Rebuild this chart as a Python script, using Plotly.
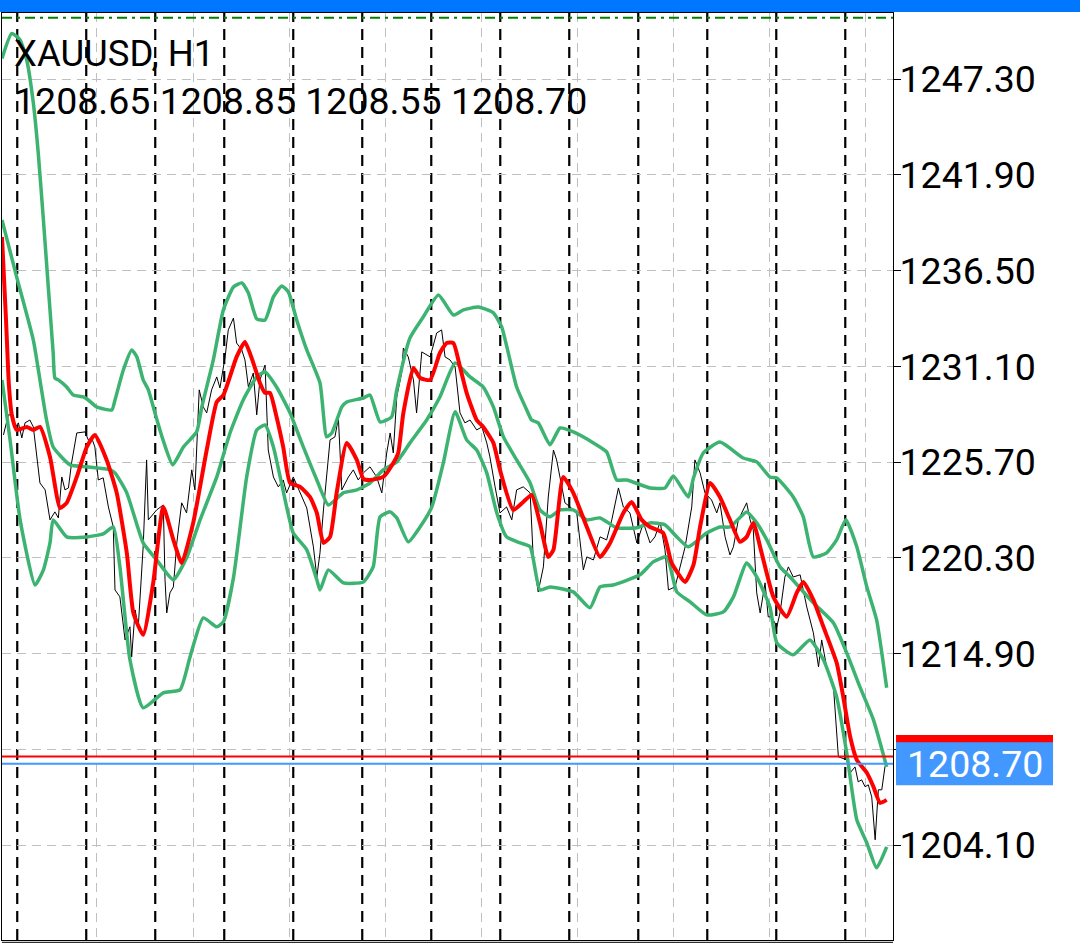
import plotly.graph_objects as go

# ---------------- data (hours since first bar, price) ----------------
symbol = "XAUUSD, H1"
last_ohlc = ["1208.65", "1208.85", "1208.55", "1208.70"]
bid = 1208.70
ask = 1209.10
level_line = 1250.76

price_ticks = [1204.10, 1209.50, 1214.90, 1220.30, 1225.70, 1231.10, 1236.50, 1241.90, 1247.30]
tick_labels = ["1204.10", "", "1214.90", "1220.30", "1225.70", "1231.10", "1236.50", "1241.90", "1247.30"]

day_breaks = [5.3, 29.3, 53.3, 77.3, 101.3, 125.3, 149.3, 173.3, 197.3, 221.3, 245.3, 269.3, 293.3]

close_pts = [
    (0.5, 1227.24), (2.2, 1228.37), (3.9, 1228.37), (4.5, 1227.63), (5.7, 1227.92), (6.9, 1227.07),
    (8.0, 1227.92), (9.7, 1228.08), (10.9, 1227.69), (13.2, 1224.53), (15.0, 1224.14), (16.7, 1222.45),
    (18.4, 1222.90), (19.6, 1222.56), (20.8, 1224.87), (21.9, 1224.14), (23.1, 1224.25), (24.2, 1225.66),
    (26.0, 1227.35), (28.9, 1227.41), (30.0, 1226.96), (31.2, 1227.07), (32.3, 1226.56), (33.5, 1224.70),
    (35.2, 1224.82), (37.0, 1223.18), (38.7, 1222.05), (39.3, 1218.50), (41.0, 1218.11), (42.8, 1215.68),
    (44.5, 1216.42), (45.1, 1214.72), (46.3, 1217.37), (47.4, 1216.42), (49.1, 1220.93), (50.3, 1225.83),
    (50.9, 1222.45), (53.8, 1223.01), (56.1, 1223.29), (56.7, 1219.07), (57.3, 1217.20), (58.4, 1218.33),
    (59.6, 1218.67), (60.8, 1221.15), (62.5, 1223.41), (64.2, 1222.84), (66.0, 1225.27), (67.1, 1224.14),
    (68.6, 1229.78), (70.0, 1228.82), (71.2, 1228.48), (72.9, 1229.78), (74.7, 1230.51), (75.8, 1229.89),
    (77.6, 1231.64), (78.7, 1233.16), (80.5, 1233.83), (81.6, 1232.42), (83.4, 1232.03), (84.5, 1231.47),
    (85.7, 1229.94), (87.4, 1230.73), (88.6, 1228.37), (89.7, 1230.34), (91.5, 1231.18), (92.6, 1226.39),
    (94.4, 1224.87), (96.1, 1224.31), (97.8, 1224.70), (99.0, 1223.97), (101.3, 1224.87), (103.7, 1223.97),
    (106.0, 1223.12), (108.3, 1220.93), (109.5, 1219.23), (110.6, 1220.59), (111.8, 1223.01), (114.1, 1226.96),
    (115.8, 1227.13), (117.0, 1228.20), (118.2, 1224.14), (120.5, 1224.87), (122.2, 1225.27), (123.9, 1224.70),
    (125.7, 1225.10), (128.0, 1225.44), (130.3, 1224.87), (132.1, 1223.97), (133.8, 1226.22), (135.0, 1227.35),
    (136.1, 1226.22), (137.3, 1229.38), (139.0, 1230.73), (139.6, 1232.14), (141.3, 1231.64), (143.1, 1230.34),
    (144.2, 1228.48), (146.0, 1231.92), (148.9, 1231.64), (151.2, 1232.99), (152.9, 1233.16), (154.1, 1231.64),
    (155.8, 1231.47), (157.6, 1231.07), (159.3, 1228.48), (161.0, 1227.92), (162.8, 1228.08), (165.1, 1227.52),
    (166.9, 1227.69), (168.6, 1226.79), (169.7, 1226.00), (171.5, 1224.31), (173.2, 1222.84), (175.5, 1223.18),
    (177.3, 1222.45), (179.0, 1224.14), (181.3, 1224.31), (183.7, 1223.97), (184.8, 1220.19), (186.5, 1218.39),
    (188.3, 1219.80), (190.0, 1223.74), (191.8, 1226.39), (192.9, 1225.83), (194.1, 1224.87), (195.8, 1223.41),
    (197.6, 1223.18), (199.9, 1222.84), (202.2, 1219.63), (203.4, 1220.36), (205.7, 1220.19), (208.0, 1221.49),
    (210.3, 1221.32), (212.1, 1222.45), (214.4, 1224.25), (216.1, 1223.18), (218.4, 1222.84), (220.8, 1221.15),
    (223.1, 1222.28), (225.4, 1221.15), (227.1, 1221.49), (228.9, 1222.33), (230.6, 1220.76), (231.8, 1218.50),
    (234.1, 1218.67), (235.8, 1219.80), (237.6, 1220.93), (239.9, 1223.18), (241.0, 1225.83), (242.8, 1225.10),
    (244.5, 1223.97), (246.8, 1223.57), (248.6, 1222.84), (249.7, 1223.41), (251.5, 1221.49), (253.2, 1220.47),
    (254.4, 1220.93), (256.1, 1222.45), (257.8, 1223.01), (259.0, 1223.41), (260.2, 1222.45), (261.3, 1221.88),
    (262.5, 1218.33), (263.7, 1217.20), (265.4, 1218.90), (266.5, 1216.98), (267.7, 1216.98), (269.5, 1216.42),
    (270.6, 1217.20), (272.3, 1219.23), (273.5, 1219.80), (275.2, 1219.23), (277.6, 1219.35), (279.9, 1217.54),
    (282.2, 1216.08), (284.0, 1214.16), (285.1, 1215.68), (286.8, 1214.16), (289.2, 1213.03), (290.9, 1209.09),
    (293.8, 1208.92), (295.0, 1208.19), (296.7, 1208.52), (297.8, 1207.68), (299.0, 1207.79), (300.2, 1207.40),
    (301.3, 1207.51), (302.5, 1206.83), (303.7, 1204.41), (304.8, 1207.23), (306.0, 1207.23), (307.1, 1208.52),
    (307.7, 1208.70),
]

ma_pts = [
    (0.0, 1238.40), (1.4, 1233.72), (2.4, 1230.06), (3.4, 1228.37), (5.1, 1227.52), (8.6, 1227.69),
    (10.9, 1227.52), (13.2, 1227.69), (16.7, 1226.00), (20.2, 1223.12), (22.5, 1223.41), (26.0, 1224.87),
    (29.5, 1226.56), (32.3, 1227.24), (36.4, 1225.83), (39.9, 1223.97), (43.4, 1220.59), (45.7, 1217.20),
    (49.1, 1215.97), (52.6, 1218.90), (56.1, 1223.18), (59.6, 1221.32), (62.5, 1220.02), (66.5, 1222.28),
    (71.2, 1226.39), (74.7, 1229.10), (77.0, 1229.49), (81.6, 1231.64), (84.5, 1232.48), (87.4, 1231.30),
    (89.7, 1230.17), (91.5, 1229.61), (93.2, 1229.61), (95.5, 1228.25), (97.8, 1226.56), (100.2, 1224.53),
    (103.7, 1224.31), (107.1, 1223.74), (109.5, 1222.84), (111.8, 1221.15), (114.1, 1221.49), (116.4, 1223.97),
    (119.9, 1226.79), (123.4, 1225.83), (125.7, 1224.76), (128.0, 1224.70), (132.6, 1224.87), (136.1, 1225.66),
    (137.8, 1226.22), (139.6, 1228.48), (143.1, 1231.02), (145.4, 1230.45), (148.9, 1230.34), (152.3, 1231.86),
    (154.7, 1232.42), (157.0, 1232.42), (159.3, 1231.07), (161.6, 1229.61), (165.1, 1228.08), (167.4, 1227.69),
    (170.9, 1226.79), (173.2, 1225.27), (177.8, 1223.01), (181.3, 1223.46), (184.2, 1223.86), (187.1, 1222.28),
    (190.0, 1220.36), (191.8, 1220.76), (195.2, 1224.87), (198.7, 1223.97), (203.4, 1222.05), (208.0, 1220.36),
    (211.5, 1221.15), (216.1, 1222.84), (219.0, 1223.46), (222.5, 1222.45), (225.4, 1222.05), (230.0, 1221.71),
    (232.9, 1220.02), (237.6, 1218.95), (240.5, 1219.91), (242.8, 1222.05), (246.3, 1224.53), (249.7, 1223.74),
    (253.2, 1222.45), (256.7, 1221.21), (259.0, 1221.49), (261.3, 1222.28), (264.2, 1220.59), (268.3, 1218.11),
    (272.9, 1216.98), (276.4, 1218.33), (278.7, 1218.95), (282.2, 1217.94), (285.7, 1216.42), (290.3, 1214.39),
    (292.6, 1212.47), (295.0, 1210.22), (297.3, 1208.92), (300.8, 1208.19), (303.1, 1207.40), (305.4, 1206.49),
    (307.7, 1206.66),
]

band_upper_pts = [
    (0.0, 1248.47), (3.4, 1249.88), (6.3, 1249.51), (8.6, 1248.38), (10.9, 1245.95), (12.6, 1243.14),
    (14.4, 1239.36), (16.1, 1235.58), (17.8, 1231.86), (18.4, 1230.45), (19.6, 1230.34), (22.5, 1229.94),
    (24.8, 1229.49), (28.3, 1229.38), (30.0, 1229.21), (32.9, 1228.82), (38.2, 1228.65), (39.3, 1229.21),
    (42.2, 1230.90), (45.1, 1232.03), (46.9, 1231.64), (49.1, 1230.34), (50.9, 1229.78), (53.2, 1228.48),
    (56.0, 1226.96), (59.4, 1225.55), (63.1, 1226.56), (67.7, 1227.41), (69.5, 1228.82), (73.5, 1231.47),
    (77.0, 1234.29), (80.5, 1235.58), (83.4, 1235.81), (85.7, 1235.24), (88.6, 1233.78), (91.5, 1233.72),
    (94.4, 1235.02), (97.3, 1235.64), (99.6, 1235.30), (102.5, 1233.72), (106.0, 1232.03), (110.6, 1230.17),
    (112.9, 1227.13), (114.7, 1227.35), (118.2, 1228.82), (119.9, 1229.10), (125.7, 1229.32), (128.0, 1229.49),
    (131.5, 1227.97), (135.5, 1228.25), (137.3, 1229.78), (141.9, 1232.71), (146.5, 1233.89), (151.8, 1235.13),
    (157.0, 1234.00), (160.5, 1234.29), (165.7, 1234.45), (170.9, 1234.12), (173.8, 1233.33), (175.6, 1232.20),
    (179.0, 1229.94), (182.5, 1228.65), (184.2, 1228.08), (186.5, 1227.92), (190.6, 1226.68), (194.1, 1227.63),
    (198.7, 1227.41), (205.7, 1226.79), (210.3, 1226.28), (213.8, 1224.70), (217.3, 1224.70), (225.4, 1224.25),
    (230.6, 1224.25), (233.5, 1224.93), (238.7, 1223.74), (240.5, 1224.81), (243.9, 1226.22), (249.7, 1226.84),
    (257.8, 1225.94), (262.5, 1225.72), (267.1, 1224.87), (269.5, 1224.81), (275.2, 1223.74), (278.7, 1222.62),
    (282.2, 1220.36), (286.8, 1220.59), (290.3, 1221.32), (293.5, 1222.45), (297.3, 1220.93), (300.8, 1218.67),
    (304.2, 1216.81), (307.7, 1212.98),
]

band_mid_pts = [
    (0.0, 1239.36), (5.1, 1236.15), (10.9, 1232.59), (13.2, 1230.34), (15.5, 1228.08), (17.8, 1226.56),
    (23.7, 1225.55), (29.5, 1225.44), (37.6, 1225.27), (39.3, 1225.10), (43.4, 1223.97), (49.1, 1221.15),
    (53.8, 1220.19), (59.6, 1219.07), (64.2, 1220.31), (68.9, 1222.45), (74.7, 1224.87), (79.3, 1227.35),
    (83.9, 1229.21), (88.6, 1230.51), (91.5, 1230.79), (95.5, 1229.94), (100.2, 1228.48), (104.8, 1226.56),
    (109.5, 1224.70), (113.5, 1223.29), (118.7, 1223.97), (123.4, 1224.14), (128.0, 1224.53), (132.6, 1225.27),
    (137.3, 1225.72), (141.9, 1226.79), (147.7, 1228.08), (152.3, 1229.38), (157.6, 1231.30), (162.8, 1230.51),
    (167.4, 1229.94), (170.9, 1228.82), (174.4, 1227.13), (179.0, 1225.83), (183.7, 1224.53), (187.1, 1223.01),
    (190.6, 1222.62), (194.1, 1223.01), (198.7, 1223.01), (203.4, 1222.45), (208.0, 1222.56), (213.8, 1222.00),
    (220.8, 1222.00), (225.4, 1222.28), (230.6, 1222.17), (234.7, 1221.49), (238.7, 1220.93), (245.1, 1221.71),
    (249.7, 1222.05), (253.2, 1222.05), (259.0, 1222.90), (262.5, 1222.28), (266.0, 1221.32), (270.6, 1219.80),
    (274.1, 1219.23), (282.2, 1217.77), (289.2, 1216.64), (293.8, 1214.95), (298.4, 1213.03), (303.1, 1211.17),
    (307.7, 1208.52),
]

band_lower_pts = [
    (0.0, 1230.34), (2.8, 1226.96), (6.3, 1222.45), (11.5, 1218.78), (14.4, 1219.63), (16.7, 1221.15),
    (17.8, 1222.45), (22.5, 1221.49), (29.5, 1221.49), (35.2, 1221.66), (38.7, 1222.05), (41.0, 1219.80),
    (44.5, 1214.56), (49.1, 1211.85), (56.1, 1212.70), (61.9, 1212.86), (65.4, 1214.72), (70.0, 1216.92),
    (74.7, 1216.42), (77.0, 1216.70), (80.5, 1219.18), (85.1, 1224.87), (88.6, 1227.52), (91.5, 1227.80),
    (94.4, 1226.56), (99.0, 1223.18), (101.3, 1221.71), (106.0, 1220.76), (109.5, 1219.07), (110.6, 1218.50),
    (113.5, 1219.63), (118.7, 1218.90), (125.7, 1218.95), (129.1, 1219.80), (131.5, 1222.62), (135.0, 1222.90),
    (137.3, 1222.56), (141.3, 1221.21), (145.4, 1222.05), (149.5, 1223.18), (153.5, 1225.66), (157.6, 1228.54),
    (161.6, 1226.96), (165.1, 1226.39), (168.6, 1225.10), (172.1, 1222.84), (175.5, 1221.49), (180.2, 1221.15),
    (183.7, 1220.93), (187.1, 1218.50), (190.6, 1218.67), (198.7, 1218.39), (204.5, 1217.49), (208.0, 1218.67),
    (212.6, 1218.78), (221.9, 1219.35), (226.5, 1220.08), (231.2, 1220.36), (234.7, 1218.39), (239.3, 1217.83),
    (245.1, 1217.09), (250.9, 1217.26), (254.4, 1218.11), (259.0, 1220.02), (262.5, 1219.23), (267.1, 1217.54),
    (269.5, 1215.51), (275.2, 1214.84), (281.0, 1215.68), (285.7, 1214.56), (290.3, 1212.47), (293.8, 1209.31),
    (297.3, 1205.54), (300.8, 1204.24), (304.2, 1202.83), (307.7, 1204.01),
]

x_range = [0, 309.9]
y_range = [1198.76, 1251.03]
grid_start, grid_step = 33.04, 33.43

# ---------------- figure ----------------
GREEN = "#3CB371"
FONT = "Roboto"


def split(pts):
    return [p[0] for p in pts], [p[1] for p in pts]


fig = go.Figure()

t, v = split(close_pts)
fig.add_trace(go.Scatter(x=t, y=v, mode="lines", line=dict(color="black", width=1),
                         hoverinfo="skip", showlegend=False))
for pts in (band_upper_pts, band_mid_pts, band_lower_pts):
    t, v = split(pts)
    fig.add_trace(go.Scatter(x=t, y=v, mode="lines",
                             line=dict(color=GREEN, width=3.5, shape="spline", smoothing=0.5),
                             hoverinfo="skip", showlegend=False))
t, v = split(ma_pts)
fig.add_trace(go.Scatter(x=t, y=v, mode="lines",
                         line=dict(color="#FF0000", width=4, shape="spline", smoothing=0.5),
                         hoverinfo="skip", showlegend=False))

shapes = []
for d in day_breaks:
    shapes.append(dict(type="line", xref="x", yref="paper", x0=d, x1=d, y0=0, y1=1,
                       line=dict(color="black", width=2.2, dash="11px,7px"), layer="below"))
# top level (dash-dot green)
shapes.append(dict(type="line", xref="paper", yref="y", x0=0, x1=1, y0=level_line, y1=level_line,
                   line=dict(color="#008000", width=2, dash="10px,5px,3px,5px")))
# ask / bid lines
shapes.append(dict(type="line", xref="paper", yref="y", x0=0, x1=1, y0=ask, y1=ask,
                   line=dict(color="#FF0000", width=2)))
shapes.append(dict(type="line", xref="paper", yref="y", x0=0, x1=1, y0=bid, y1=bid,
                   line=dict(color="#4298FF", width=2)))


def to_paper(p):
    return (p - y_range[0]) / (y_range[1] - y_range[0])


half_h = 0.0232
box_x0, box_x1 = 1.0034, 1.1796
shapes.append(dict(type="rect", xref="paper", yref="paper", x0=box_x0, x1=box_x1,
                   y0=to_paper(ask) - half_h, y1=to_paper(ask) + half_h,
                   fillcolor="#FF0000", line=dict(width=0)))
shapes.append(dict(type="rect", xref="paper", yref="paper", x0=box_x0, x1=box_x1,
                   y0=to_paper(bid) - half_h, y1=to_paper(bid) + half_h,
                   fillcolor="#4298FF", line=dict(width=0)))
# top blue bar
shapes.append(dict(type="rect", xref="paper", yref="paper", x0=-0.01, x1=1.22, y0=1.0011, y1=1.02,
                   fillcolor="#0077FF", line=dict(width=0)))
# double bottom border
shapes.append(dict(type="line", xref="paper", yref="paper", x0=0, x1=1, y0=-0.0025, y1=-0.0025,
                   line=dict(color="black", width=1)))

annotations = [
    dict(text=symbol, xref="paper", yref="paper", x=0.0112, y=0.9558, xanchor="left", yanchor="middle",
         showarrow=False, font=dict(family=FONT, size=36.5, color="black")),
    dict(text=" ".join(last_ohlc), xref="paper", yref="paper", x=0.0112, y=0.9050, xanchor="left",
         yanchor="middle", showarrow=False, font=dict(family=FONT, size=37.5, color="black")),
    dict(text=f"{bid:.2f}", xref="paper", yref="paper", x=(box_x0 + box_x1) / 2, y=to_paper(bid),
         xanchor="center", yanchor="middle", showarrow=False,
         font=dict(family=FONT, size=37.5, color="white")),
]

fig.update_layout(
    width=1080, height=945,
    margin=dict(l=2, r=187, t=13, b=5),
    paper_bgcolor="white", plot_bgcolor="white",
    shapes=shapes, annotations=annotations,
    xaxis=dict(range=x_range, showgrid=True, gridcolor="#C0C0C0", griddash="9px,6px", gridwidth=1,
               tick0=grid_start, dtick=grid_step, showticklabels=False, ticks="", zeroline=False,
               showline=True, linecolor="black", linewidth=1, mirror=True),
    yaxis=dict(range=y_range, side="right", tickmode="array", tickvals=price_ticks, ticktext=tick_labels,
               tickfont=dict(family=FONT, size=37.5, color="black"), ticks="outside", ticklen=7,
               ticklabelstandoff=-9,
               tickcolor="black", showgrid=True, gridcolor="#C0C0C0", griddash="9px,6px", gridwidth=1,
               zeroline=False, showline=True, linecolor="black", linewidth=1, mirror=True),
)

fig.write_html("out.html", config={"displayModeBar": False},
               post_script="document.body.style.margin='0';")
